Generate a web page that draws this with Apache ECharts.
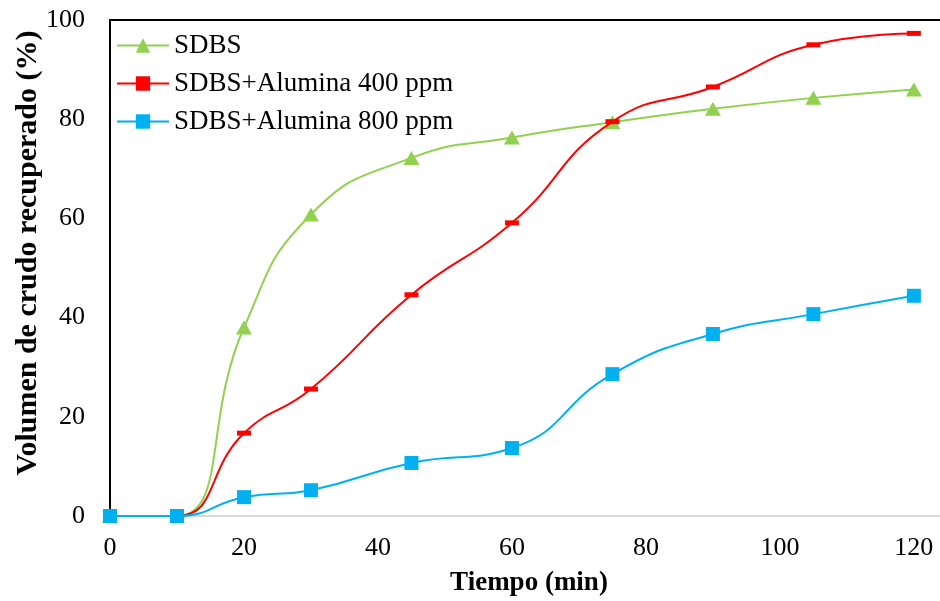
<!DOCTYPE html>
<html><head><meta charset="utf-8">
<script src="https://cdn.jsdelivr.net/npm/echarts@6/dist/echarts.min.js"></script>
<style>html,body{margin:0;padding:0;background:#fff}#c{width:940px;height:601px}</style>
</head><body><div id="c"></div>
<script>
const times = [0, 10, 20, 30, 45, 60, 75, 90, 105, 120];
const sdbs = [0, 0, 38, 60.8, 72.2, 76.3, 79.4, 82.1, 84.3, 86];
const alumina400 = [0, 0, 16.7, 25.6, 44.6, 59.1, 79.5, 86.5, 95, 97.3];
const alumina800 = [0, 0, 3.8, 5.2, 10.7, 13.7, 28.6, 36.7, 40.7, 44.4];
const seriesNames = ['SDBS', 'SDBS+Alumina 400 ppm', 'SDBS+Alumina 800 ppm'];
const xTicks = [0, 20, 40, 60, 80, 100, 120];
const xTitle = 'Tiempo (min)';
const yTitle = 'Volumen de crudo recuperado (%)';

const FONT = '"Liberation Serif", "Times New Roman", serif';
const pair = arr => times.map((t, i) => [t, arr[i]]);
const chart = echarts.init(document.getElementById('c'), null, {renderer: 'canvas'});
const redMarker = 'path://M0,0 L14,0 L14,5 L0,5 Z';
chart.setOption({
  animation: false,
  textStyle: {fontFamily: FONT},
  grid: {left: 110, right: 0, top: 20, bottom: 85, containLabel: false, outerBoundsMode: 'none'},
  legend: {
    left: 111, top: 27, orient: 'vertical', itemGap: 11, itemWidth: 52, itemHeight: 18,
    textStyle: {fontFamily: FONT, fontSize: 27, lineHeight: 27, color: '#000'},
    data: seriesNames
  },
  graphic: [
    {type: 'text', x: 28, y: 253, rotation: Math.PI / 2,
      style: {text: yTitle, font: 'bold 30px ' + FONT, fill: '#000', align: 'center', verticalAlign: 'middle'}},
    {type: 'text', x: 529, y: 583,
      style: {text: xTitle, font: 'bold 27px ' + FONT, fill: '#000', align: 'center', verticalAlign: 'middle'}}
  ],
  xAxis: [{
    type: 'value', min: 0, max: 123.9, interval: 20,
    axisLine: {show: true, onZero: false, lineStyle: {color: '#d9d9d9', width: 2}},
    axisTick: {show: false},
    splitLine: {show: false},
    axisLabel: {fontFamily: FONT, fontSize: 26, color: '#000', margin: 19,
      formatter: v => xTicks.includes(v) ? String(v) : ''}
  }, {
    type: 'value', position: 'top', min: 0, max: 123.9,
    axisLine: {show: true, onZero: false, lineStyle: {color: '#000', width: 2}},
    axisTick: {show: false}, axisLabel: {show: false}, splitLine: {show: false}
  }],
  yAxis: {
    type: 'value', min: 0, max: 100, interval: 20,
    axisLine: {show: true, onZero: false, lineStyle: {color: '#000', width: 2}},
    axisTick: {show: false},
    splitLine: {show: false},
    axisLabel: {fontFamily: FONT, fontSize: 26, color: '#000', margin: 25}
  },
  series: [
    {name: seriesNames[0], type: 'line', data: pair(sdbs), smooth: 0.5,
      symbol: 'triangle', symbolSize: [16, 14], showSymbol: true,
      itemStyle: {color: '#92D050'}, lineStyle: {color: '#92D050', width: 2}, z: 3},
    {name: seriesNames[1], type: 'line', data: pair(alumina400), smooth: 0.5,
      symbol: redMarker, symbolSize: [14, 5],
      itemStyle: {color: '#FF0000'}, lineStyle: {color: '#FF0000', width: 2}, z: 4},
    {name: seriesNames[2], type: 'line', data: pair(alumina800), smooth: 0.5,
      symbol: 'rect', symbolSize: 14,
      itemStyle: {color: '#00B0F0'}, lineStyle: {color: '#00B0F0', width: 2}, z: 5}
  ]
});
</script></body></html>
